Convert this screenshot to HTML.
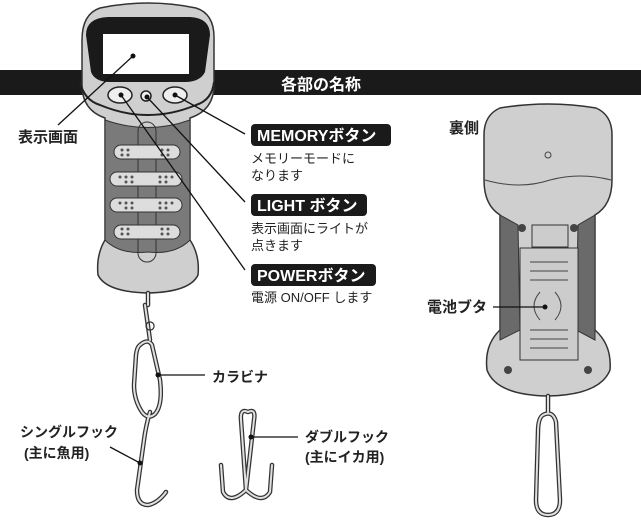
<!DOCTYPE html>
<html><head><meta charset="utf-8"><style>
body{margin:0;background:#fff;}
svg{display:block;font-family:"Liberation Sans","Noto Sans CJK JP",sans-serif;}
.b{font-weight:bold;}
</style></head><body>
<svg width="641" height="525" viewBox="0 0 641 525">
<rect x="0" y="70" width="641" height="25" fill="#1a1a1a"/>
<text x="281" y="90" fill="#fff" font-size="16" class="b">各部の名称</text>
<path d="M100 8 Q148 -2 196 8 Q215 14 214 40 L214 85 Q214 110 190 118 L190 240 Q200 255 198 275 Q190 292 148 293 Q106 292 98 275 Q96 255 105 240 L105 118 Q82 110 82 85 L82 40 Q82 14 100 8Z" fill="#cfcfcf" stroke="#333" stroke-width="1.5"/>
<path d="M105 120 Q148 135 190 120 L190 240 Q175 255 148 252 Q120 255 105 240Z" fill="#7a7a7a" stroke="#333"/>
<path d="M80 82 Q84 100 100 105 Q148 125 196 105 Q212 100 214 82" fill="none" stroke="#222" stroke-width="2"/>
<path d="M86 35 Q86 18 108 17 L190 17 Q210 18 210 35 L205 72 Q200 82 185 82 L110 82 Q95 82 91 72Z" fill="#1a1a1a"/>
<rect x="103" y="34" width="86" height="40" fill="#fff"/>
<ellipse cx="120" cy="95" rx="12" ry="8" fill="#eee" stroke="#222" stroke-width="1.5"/>
<circle cx="146" cy="96" r="5" fill="#eee" stroke="#222" stroke-width="1.5"/>
<ellipse cx="175" cy="95" rx="12" ry="8" fill="#eee" stroke="#222" stroke-width="1.5"/>
<rect x="138" y="122" width="18" height="140" rx="9" fill="none" stroke="#333"/>
<g fill="#ddd" stroke="#333">
<rect x="114" y="145" width="66" height="14" rx="7"/>
<rect x="110" y="172" width="72" height="14" rx="7"/>
<rect x="110" y="198" width="72" height="14" rx="7"/>
<rect x="114" y="225" width="66" height="14" rx="7"/>
</g>
<g fill="#555">
<circle cx="122" cy="150" r="1.5"/><circle cx="128" cy="150" r="1.5"/><circle cx="122" cy="155" r="1.5"/><circle cx="128" cy="155" r="1.5"/>
<circle cx="162" cy="150" r="1.5"/><circle cx="168" cy="150" r="1.5"/><circle cx="162" cy="155" r="1.5"/><circle cx="168" cy="155" r="1.5"/>
<circle cx="120" cy="177" r="1.5"/><circle cx="126" cy="177" r="1.5"/><circle cx="132" cy="177" r="1.5"/><circle cx="126" cy="182" r="1.5"/><circle cx="132" cy="182" r="1.5"/>
<circle cx="160" cy="177" r="1.5"/><circle cx="166" cy="177" r="1.5"/><circle cx="172" cy="177" r="1.5"/><circle cx="160" cy="182" r="1.5"/><circle cx="166" cy="182" r="1.5"/>
<circle cx="120" cy="203" r="1.5"/><circle cx="126" cy="203" r="1.5"/><circle cx="132" cy="203" r="1.5"/><circle cx="126" cy="208" r="1.5"/><circle cx="132" cy="208" r="1.5"/>
<circle cx="160" cy="203" r="1.5"/><circle cx="166" cy="203" r="1.5"/><circle cx="172" cy="203" r="1.5"/><circle cx="160" cy="208" r="1.5"/><circle cx="166" cy="208" r="1.5"/>
<circle cx="122" cy="229" r="1.5"/><circle cx="128" cy="229" r="1.5"/><circle cx="122" cy="234" r="1.5"/><circle cx="128" cy="234" r="1.5"/>
<circle cx="162" cy="229" r="1.5"/><circle cx="168" cy="229" r="1.5"/><circle cx="162" cy="234" r="1.5"/><circle cx="168" cy="234" r="1.5"/>
</g>
<g stroke="#111" stroke-width="1.3" fill="none">
<line x1="133" y1="56" x2="58" y2="125"/>
<line x1="121" y1="95" x2="245" y2="270"/>
<line x1="147" y1="97" x2="245" y2="202"/>
<line x1="175" y1="95" x2="245" y2="134"/>
</g>
<g fill="#111"><circle cx="133" cy="56" r="2.5"/><circle cx="121" cy="95" r="2.5"/><circle cx="147" cy="97" r="2.5"/><circle cx="175" cy="95" r="2.5"/></g>
<text x="18" y="142" font-size="15" class="b" fill="#222">表示画面</text>
<rect x="251" y="124" width="140" height="22" rx="4" fill="#1a1a1a"/>
<text x="257" y="141" font-size="16" class="b" fill="#fff">MEMORYボタン</text>
<text x="251" y="163" font-size="13" fill="#222">メモリーモードに</text>
<text x="251" y="180" font-size="13" fill="#222">なります</text>
<rect x="251" y="194" width="116" height="22" rx="4" fill="#1a1a1a"/>
<text x="257" y="211" font-size="16" class="b" fill="#fff">LIGHT ボタン</text>
<text x="251" y="233" font-size="13" fill="#222">表示画面にライトが</text>
<text x="251" y="250" font-size="13" fill="#222">点きます</text>
<rect x="251" y="264" width="125" height="22" rx="4" fill="#1a1a1a"/>
<text x="257" y="281" font-size="16" class="b" fill="#fff">POWERボタン</text>
<text x="251" y="302" font-size="13" fill="#222">電源 ON/OFF します</text>
<g fill="none" stroke-linecap="round" stroke-linejoin="round">
<g stroke="#333" stroke-width="4.5">
<path d="M148 293 L148 305 M145 305 L150 340"/>
<path d="M140 345 Q148 338 152 345 L160 380 Q163 405 155 414 Q148 420 142 412 Q134 400 134 385 L136 355 Q137 347 140 345Z"/>
<path d="M150 412 Q146 425 144 440 L137 490 Q137 505 148 505 Q158 503 166 492"/>
<path d="M248 412 Q240 408 241 420 L246 490 M248 412 Q256 408 254 420 L246 490 M246 490 Q230 505 223 492 L221 465 M246 490 Q262 505 270 492 L272 465"/>
</g>
<g stroke="#e0e0e0" stroke-width="2">
<path d="M148 293 L148 305 M145 305 L150 340"/>
<path d="M140 345 Q148 338 152 345 L160 380 Q163 405 155 414 Q148 420 142 412 Q134 400 134 385 L136 355 Q137 347 140 345Z"/>
<path d="M150 412 Q146 425 144 440 L137 490 Q137 505 148 505 Q158 503 166 492"/>
<path d="M248 412 Q240 408 241 420 L246 490 M248 412 Q256 408 254 420 L246 490 M246 490 Q230 505 223 492 L221 465 M246 490 Q262 505 270 492 L272 465"/>
</g>
<path d="M150 322 a4 4 0 1 0 0.1 0" stroke="#333" stroke-width="1.2"/>
</g>
<line x1="158" y1="375" x2="205" y2="375" stroke="#111" stroke-width="1.3"/>
<circle cx="158" cy="375" r="2.5" fill="#111"/>
<text x="212" y="382" font-size="14" class="b" fill="#222">カラビナ</text>
<line x1="110" y1="447" x2="140" y2="463" stroke="#111" stroke-width="1.3"/>
<circle cx="140" cy="463" r="2.5" fill="#111"/>
<text x="20" y="437" font-size="14" class="b" fill="#222">シングルフック</text>
<text x="24" y="458" font-size="14" class="b" fill="#222">(主に魚用)</text>
<line x1="251" y1="437" x2="298" y2="437" stroke="#111" stroke-width="1.3"/>
<circle cx="251" cy="437" r="2.5" fill="#111"/>
<text x="305" y="442" font-size="14" class="b" fill="#222">ダブルフック</text>
<text x="305" y="462" font-size="14" class="b" fill="#222">(主にイカ用)</text>
<text x="449" y="133" font-size="15" class="b" fill="#222">裏側</text>
<path d="M500 108 Q548 100 596 108 Q612 115 612 135 L612 180 Q612 205 595 215 L595 330 Q612 345 610 370 Q600 395 548 396 Q496 395 487 370 Q484 345 500 330 L500 215 Q484 205 484 180 L484 135 Q484 115 500 108Z" fill="#cfcfcf" stroke="#333" stroke-width="1.5"/>
<path d="M500 215 L518 225 L520 330 L500 340Z M595 215 L578 225 L576 330 L595 340Z" fill="#6a6a6a" stroke="#333"/>
<path d="M485 180 Q520 190 550 180 Q580 172 611 180" fill="none" stroke="#444"/>
<circle cx="548" cy="155" r="3" fill="none" stroke="#444"/>
<rect x="520" y="248" width="58" height="112" fill="#ccc" stroke="#333"/>
<rect x="532" y="225" width="36" height="22" fill="#ccc" stroke="#333"/>
<circle cx="522" cy="228" r="4" fill="#444"/><circle cx="574" cy="228" r="4" fill="#444"/>
<circle cx="508" cy="370" r="4" fill="#444"/><circle cx="588" cy="370" r="4" fill="#444"/>
<g stroke="#444" fill="none"><line x1="530" y1="262" x2="568" y2="262"/><line x1="530" y1="271" x2="568" y2="271"/><line x1="530" y1="280" x2="568" y2="280"/><line x1="530" y1="330" x2="568" y2="330"/><line x1="530" y1="339" x2="568" y2="339"/><line x1="530" y1="348" x2="568" y2="348"/>
<path d="M540 292 Q528 306 540 320"/><path d="M555 292 Q567 306 555 320"/></g>
<line x1="493" y1="307" x2="545" y2="307" stroke="#111" stroke-width="1.3"/>
<circle cx="545" cy="307" r="2.5" fill="#111"/>
<text x="427" y="312" font-size="15" class="b" fill="#222">電池ブタ</text>
<g fill="none" stroke-linecap="round">
<path d="M548 396 L548 412 M543 415 Q553 410 556 422 L560 500 Q560 515 548 515 Q536 515 536 500 L538 432 Q538 418 543 415Z" stroke="#333" stroke-width="4.5"/>
<path d="M548 396 L548 412 M543 415 Q553 410 556 422 L560 500 Q560 515 548 515 Q536 515 536 500 L538 432 Q538 418 543 415Z" stroke="#e0e0e0" stroke-width="2"/>
</g>
</svg>
</body></html>
